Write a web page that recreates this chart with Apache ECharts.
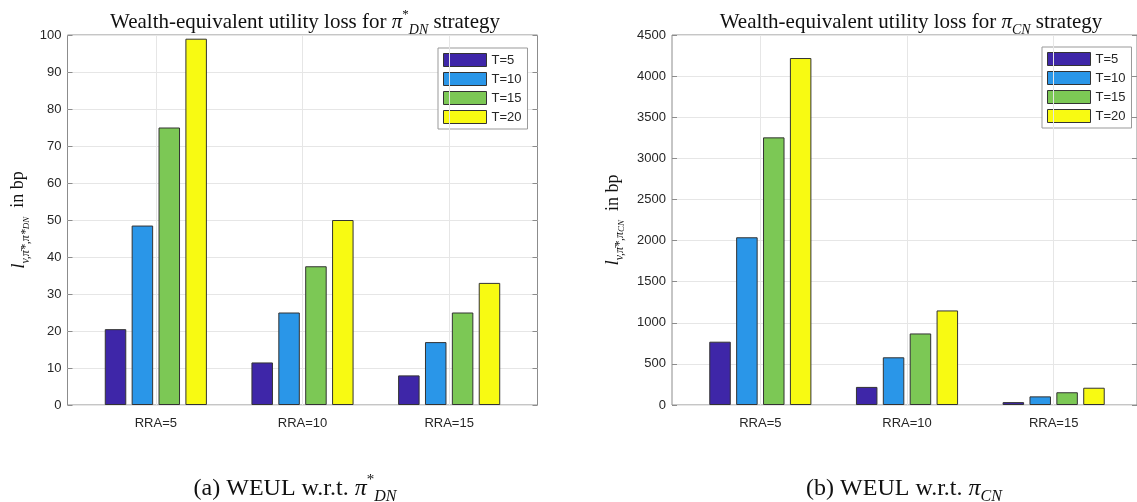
<!DOCTYPE html>
<html><head><meta charset="utf-8">
<script src="https://cdn.jsdelivr.net/npm/echarts@6/dist/echarts.min.js"></script>
<style>html,body{margin:0;padding:0;background:#fff}#c{width:1137px;height:502px}</style>
</head><body><div id="c"></div>
<script>
// ---- data ----
const categories = ['RRA=5', 'RRA=10', 'RRA=15'];
const seriesNames = ['T=5', 'T=10', 'T=15', 'T=20'];
const dnT5 = [20.5, 11.5, 8];
const dnT10 = [48.5, 25, 17];
const dnT15 = [75, 37.5, 25];
const dnT20 = [99, 50, 33];
const cnT5 = [770, 220, 35];
const cnT10 = [2040, 580, 105];
const cnT15 = [3255, 870, 155];
const cnT20 = [4220, 1150, 210];
const dnAxis = { min: 0, max: 100, interval: 10 };
const cnAxis = { min: 0, max: 4500, interval: 500 };

// ---- styles ----
const colors = ['#3E26A8', '#2A96E8', '#7CC855', '#F8FA12'];
const frameColor = '#8c8c8c';
const gridColor = '#e6e6e6';
const labelColor = '#262626';
const sans = 'Liberation Sans, Arial, sans-serif';
const serif = 'Liberation Serif, Times New Roman, serif';

const mathRich = (size) => ({
  t: { fontFamily: serif, fontSize: size, fontWeight: 'normal', color: '#111', lineHeight: size + 8 },
  m: { fontFamily: serif, fontSize: size, fontWeight: 'normal', fontStyle: 'italic', color: '#111', lineHeight: size + 8 },
  sp: { fontFamily: serif, fontSize: Math.round(size * 0.62), fontWeight: 'normal', color: '#111', lineHeight: Math.round(size * 0.62), verticalAlign: 'top' },
  sb: { fontFamily: serif, fontSize: Math.round(size * 0.66), fontWeight: 'normal', fontStyle: 'italic', color: '#111', lineHeight: Math.round(size * 0.66), verticalAlign: 'bottom' }
});

const nameRich = {
  i: { fontFamily: serif, fontSize: 19, fontStyle: 'italic', color: '#111', lineHeight: 26 },
  s: { fontFamily: serif, fontSize: 12, fontStyle: 'italic', color: '#111', lineHeight: 17, verticalAlign: 'bottom' },
  ss: { fontFamily: serif, fontSize: 9, fontStyle: 'italic', color: '#111', lineHeight: 9, verticalAlign: 'bottom' },
  t: { fontFamily: serif, fontSize: 18, color: '#111', lineHeight: 26 }
};

function frameGrid(left) {
  return { left: left, top: 35, width: 470, height: 370, show: true, borderColor: frameColor, borderWidth: 1, backgroundColor: 'transparent' };
}
function barGrid(left) {
  return { left: left + 15, top: 35, width: 440, height: 370 };
}

const grids = [frameGrid(67.5), barGrid(67.5), frameGrid(672), barGrid(672)];

const xAxes = [
  { gridIndex: 0, type: 'value', min: 0, max: 1, show: false },
  { gridIndex: 1, type: 'category', data: categories, axisLine: { show: false }, axisTick: { show: false }, splitLine: { show: false },
    axisLabel: { fontFamily: sans, fontSize: 13, color: labelColor, margin: 12 } },
  { gridIndex: 2, type: 'value', min: 0, max: 1, show: false },
  { gridIndex: 3, type: 'category', data: categories, axisLine: { show: false }, axisTick: { show: false }, splitLine: { show: false },
    axisLabel: { fontFamily: sans, fontSize: 13, color: labelColor, margin: 12 } }
];

function yAxesFor(frameIdx, barIdx, ax, name, gap) {
  return [
    { gridIndex: frameIdx, type: 'value', min: ax.min, max: ax.max, interval: ax.interval, position: 'left',
      axisLine: { show: false }, axisTick: { show: true, inside: true, length: 5, lineStyle: { color: frameColor } },
      axisLabel: { fontFamily: sans, fontSize: 13, color: labelColor, margin: 6, formatter: v => String(v) },
      splitLine: { show: true, lineStyle: { color: gridColor, width: 1 } },
      name: name, nameLocation: 'middle', nameGap: gap, nameRotate: 90,
      nameTextStyle: { rich: nameRich } },
    { gridIndex: frameIdx, type: 'value', min: ax.min, max: ax.max, interval: ax.interval, position: 'right',
      axisLine: { show: false }, axisTick: { show: true, inside: true, length: 5, lineStyle: { color: frameColor } },
      axisLabel: { show: false }, splitLine: { show: false } },
    { gridIndex: barIdx, type: 'value', min: ax.min, max: ax.max, show: false, splitLine: { show: false } }
  ];
}

const yAxes = [
  ...yAxesFor(0, 1, dnAxis, '{i|l}{s|v,π̄*,π*}{ss|DN}{t|  in bp}', 36),
  ...yAxesFor(2, 3, cnAxis, '{i|l}{s|v,π̄*,π}{ss|CN}{t|  in bp}', 46)
];

function barsFor(xi, yi, arrays) {
  const out = arrays.map((arr, k) => ({
    name: seriesNames[k], type: 'bar', xAxisIndex: xi, yAxisIndex: yi, data: arr, z: 3,
    barWidth: 21.5, barGap: '25%',
    itemStyle: { color: colors[k], borderColor: '#333', borderWidth: 1 },
    emphasis: { disabled: true }
  }));
  out.push({
    type: 'line', xAxisIndex: xi, yAxisIndex: yi, data: categories.map(() => '-'), z: 1, silent: true,
    symbol: 'none', lineStyle: { opacity: 0 },
    markLine: { silent: true, symbol: 'none', label: { show: false }, animation: false,
      lineStyle: { color: gridColor, type: 'solid', width: 1 },
      data: categories.map(c => ({ xAxis: c })) }
  });
  return out;
}

const series = [
  ...barsFor(1, 2, [dnT5, dnT10, dnT15, dnT20]),
  ...barsFor(3, 5, [cnT5, cnT10, cnT15, cnT20])
];

function legendAt(left, top) {
  return { data: seriesNames, orient: 'vertical', left: left, top: top, itemWidth: 43, itemHeight: 13, itemGap: 5,
    padding: [5, 6, 5, 5], borderColor: '#999', borderWidth: 1, backgroundColor: '#fff', icon: 'rect',
    selectedMode: false, itemStyle: { borderColor: '#333', borderWidth: 1 },
    textStyle: { fontFamily: sans, fontSize: 13, color: labelColor, padding: [0, 0, 0, 0] } };
}

const titles = [
  { text: '{t|Wealth-equivalent utility loss for }{m|π}{sp|*}{sb|DN}{t| strategy}', left: 300, top: 3, textAlign: 'center',
    textStyle: { fontWeight: 'normal', rich: mathRich(21) } },
  { text: '{t|Wealth-equivalent utility loss for }{m|π}{sb|CN}{t| strategy}', left: 906, top: 3, textAlign: 'center',
    textStyle: { fontWeight: 'normal', rich: mathRich(21) } },
  { text: '{t|(a) WEUL w.r.t. }{m|π}{sp|*}{sb|DN}', left: 290, top: 468, textAlign: 'center',
    textStyle: { fontWeight: 'normal', rich: mathRich(24) } },
  { text: '{t|(b) WEUL w.r.t. }{m|π}{sb|CN}', left: 899, top: 468, textAlign: 'center',
    textStyle: { fontWeight: 'normal', rich: mathRich(24) } }
];

const chart = echarts.init(document.getElementById('c'), null, { renderer: 'canvas' });
chart.setOption({
  animation: false,
  backgroundColor: '#fff',
  title: titles,
  legend: [legendAt(438, 48), legendAt(1042, 47)],
  grid: grids,
  xAxis: xAxes,
  yAxis: yAxes,
  series: series
});
</script>
</body></html>
